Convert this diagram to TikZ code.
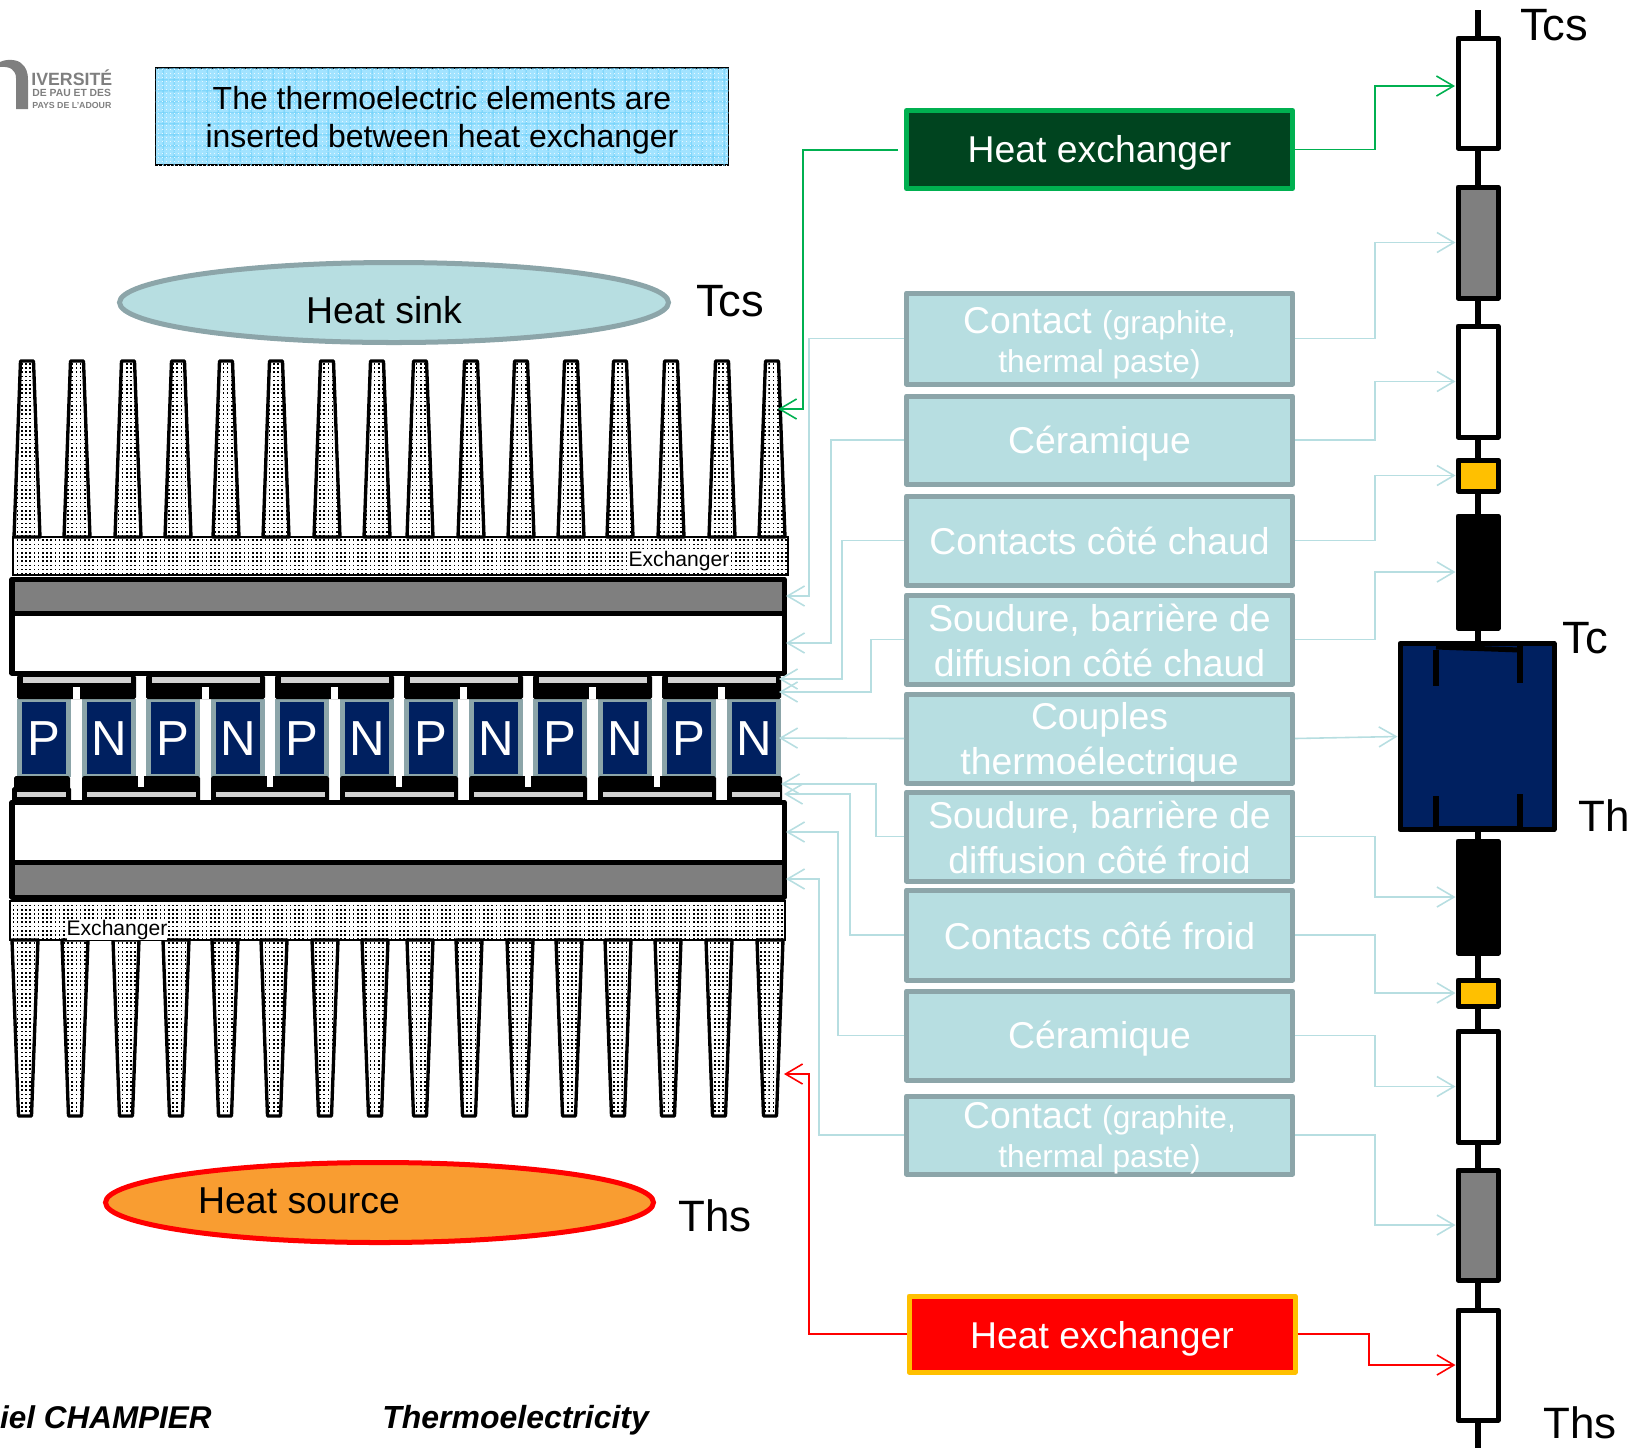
\documentclass[tikz,border=0pt]{standalone}
\usepackage{fontspec}
\setmainfont{Liberation Sans}
\usetikzlibrary{arrows.meta,patterns,shapes.geometric}
\definecolor{teal1}{HTML}{B7DEE1}
\definecolor{teal2}{HTML}{8CA5A9}
\definecolor{navyb}{HTML}{002060}
\definecolor{green1}{HTML}{00B050}
\definecolor{green2}{HTML}{00441F}
\definecolor{ambr}{HTML}{FFC000}
\definecolor{orng}{HTML}{F99D31}
\definecolor{hatchbase}{HTML}{A2E3FF}
\definecolor{hatchline}{HTML}{72D2FA}
\definecolor{gry}{HTML}{7F7F7F}
\definecolor{lgry}{HTML}{D2D2D2}
\pgfdeclarepatternformonly{mydots}{\pgfqpoint{-0.1pt}{-0.1pt}}{\pgfqpoint{2.5pt}{2.5pt}}{\pgfqpoint{2.39pt}{2.39pt}}{\pgfpathrectangle{\pgfqpoint{0pt}{0pt}}{\pgfqpoint{0.95pt}{0.95pt}}\pgfusepath{fill}}
\pgfdeclarepatternformonly{mygrid}{\pgfqpoint{0pt}{0pt}}{\pgfqpoint{6pt}{6pt}}{\pgfqpoint{6pt}{6pt}}{\pgfsetlinewidth{0.6pt}\pgfpathmoveto{\pgfqpoint{0pt}{3pt}}\pgfpathlineto{\pgfqpoint{6pt}{3pt}}\pgfpathmoveto{\pgfqpoint{3pt}{0pt}}\pgfpathlineto{\pgfqpoint{3pt}{6pt}}\pgfusepath{stroke}}
\pgfdeclarepatternformonly{mywdots}{\pgfqpoint{0pt}{0pt}}{\pgfqpoint{2pt}{2pt}}{\pgfqpoint{2pt}{2pt}}{\pgfpathrectangle{\pgfqpoint{0pt}{0pt}}{\pgfqpoint{0.5pt}{0.5pt}}\pgfusepath{fill}}
\tikzset{
  thick line/.style={draw=black,line width=2.85pt,line join=round},
  tealbox/.style={rectangle,draw=teal2,fill=teal1,line width=2.85pt,line join=round,inner sep=0pt,minimum width={386*0.02cm}},
  boxtext/.style={text=white,align=center,inner sep=0pt,font=\fontsize{21.25}{25.6}\selectfont},
  rbox/.style={rectangle,thick line,inner sep=0pt,minimum width={40*0.02cm}},
  conn/.style={line width=0.9pt,-{Straight Barb[length=9.7pt,width=11.4pt,line width=0.9pt]}},
  finshape/.style={draw=black,line width=1.9pt,line join=round,pattern=mydots},
  exch/.style={draw=black,line width=1.1pt,pattern=mydots},
  tlabel/.style={inner sep=0pt,font=\fontsize{25.8}{30}\selectfont},
  tlabelb/.style={inner sep=0pt,font=\fontsize{25}{30}\selectfont},
  exlabel/.style={inner sep=0pt,fill=white,font=\fontsize{12}{14}\selectfont},
  leglabel/.style={inner sep=0pt,text=white,font=\fontsize{28}{30}\selectfont},
}
\newcommand\cbox[5]{\node[tealbox,minimum height={(#3-#2-6)*0.02cm}] (#1) at (1099.5,{(#2+#3)/2}) {};
  \node[boxtext] (#1t) at (1099.5,{(#2+#3)/2+#4}) {#5};}
\newcommand\rblk[4]{\node[rbox,fill=#4,minimum height={(#3-#2)*0.02cm}] (#1) at (1478,{(#2+#3)/2}) {};}
\newcommand\bigsmall[2]{#1 {\fontsize{18}{22.8}\selectfont #2}}
\begin{document}
\begin{tikzpicture}[x=0.02cm,y=-0.02cm]
\useasboundingbox (0,0) rectangle (1635,1448);
% logo
\fill[gry] (0,62) .. controls (6,59) and (16,59) .. (21,63) .. controls (26,67) and (28,72) .. (28,80) -- (28,109) -- (16,109) -- (16,78) .. controls (16,70) and (10,66) .. (0,67) -- cycle;
\node[inner sep=0pt,text=gry,anchor=west,font=\bfseries\fontsize{10.1}{10}\selectfont] (lg1) at (31,78) {IVERSITÉ};
\node[inner sep=0pt,text=gry,anchor=west,font=\bfseries\fontsize{5.9}{6}\selectfont] (lg2) at (32,93) {DE PAU ET DES};
\node[inner sep=0pt,text=gry,anchor=west,font=\bfseries\fontsize{5}{6}\selectfont] (lg3) at (32,105) {PAYS DE L'ADOUR};
% title box
\node[rectangle,draw=black,line width=0.9pt,fill=hatchbase,postaction={pattern=mygrid,pattern color=hatchline},postaction={pattern=mywdots,pattern color=white!75!hatchbase},minimum width={573*0.02cm},minimum height={97*0.02cm},inner sep=0pt] (title) at (442,116.5) {};
\node[inner sep=0pt,align=center,font=\fontsize{18.2}{21.6}\selectfont] (titletext) at (442,120) {The thermoelectric elements are\\inserted between heat exchanger};
% ellipses
\node[ellipse,draw=teal2,fill=teal1,line width=2.85pt,minimum width={549*0.02cm},minimum height={80*0.02cm},inner sep=0pt] (sink) at (394,302.5) {};
\node[inner sep=0pt,font=\fontsize{21.3}{25.6}\selectfont] (sinktext) at (384,310) {Heat sink};
\node[ellipse,draw=red,fill=orng,line width=2.85pt,minimum width={548*0.02cm},minimum height={80*0.02cm},inner sep=0pt] (source) at (379.5,1202.5) {};
\node[inner sep=0pt,font=\fontsize{21.3}{25.6}\selectfont] (sourcetext) at (299,1201) {Heat source};
\node[tlabel] (tcsL) at (730,301) {Tcs};
\node[tlabelb] (thsL) at (715,1216) {Ths};
% fins
\foreach \c in {27,77,128,178,226,276,327,377,420,471,521,571,620,671,722,772}{
  \draw[finshape] ({\c-6.5},361) -- ({\c+6.5},361) -- ({\c+13},537) -- ({\c-13},537) -- cycle;
}
\foreach \c in {25,75,126,176,225,274,325,375,420,469,520,569,618,668,719,770}{
  \draw[finshape] ({\c-13},940) -- ({\c+13},940) -- ({\c+6.5},1116) -- ({\c-6.5},1116) -- cycle;
}
\draw[exch] (13,537) rectangle (788,575);
\draw[exch] (10,901) rectangle (785,940);
\node[exlabel] (ex1) at (679,561) {Exchanger};
\node[exlabel] (ex2) at (117,930) {Exchanger};
% legs
\foreach \k in {0,...,5}{
  \fill[teal2] ({17+129*\k},699) rectangle ({71+129*\k},777);
  \fill[navyb] ({22+129*\k},702) rectangle ({66+129*\k},774);
  \fill[teal2] ({82+129*\k},699) rectangle ({136+129*\k},777);
  \fill[navyb] ({87+129*\k},702) rectangle ({131+129*\k},774);
  \node[leglabel] (p\k) at ({44+129*\k},739) {P};
  \node[leglabel] (n\k) at ({109+129*\k},739) {N};
  \fill[black,rounded corners=1pt] ({17+129*\k},675) rectangle ({136+129*\k},699);
  \fill[lgry] ({23+129*\k},677) rectangle ({131+129*\k},683);
  \fill[white] ({73+129*\k},687) rectangle ({80+129*\k},699);
}
% bottom contacts
\fill[black,rounded corners=1pt] (14,776) rectangle (70,790);
\fill[black,rounded corners=1pt] (12,787) rectangle (71,802);
\fill[lgry] (17,792) rectangle (66,797);
\foreach \k in {0,...,4}{
  \fill[black,rounded corners=1pt] ({82+129*\k},776) rectangle ({200+129*\k},802);
  \fill[white] ({138+129*\k},776) rectangle ({144+129*\k},787);
  \fill[lgry] ({87+129*\k},792) rectangle ({196+129*\k},797);
}
\fill[black,rounded corners=1pt] (727,776) rectangle (782,802);
\fill[lgry] (732,792) rectangle (780,797);
% plates
\draw[thick line,fill=gry] (12,579) rectangle (784,613);
\draw[thick line,fill=white] (12,613) rectangle (784,673);
\draw[thick line,fill=white] (12,802) rectangle (784,862);
\draw[thick line,fill=gry] (12,862) rectangle (784,897);
% centre column
\node[tealbox,draw=green1,fill=green2,minimum height={78*0.02cm}] (hx1) at (1099.5,149.5) {};
\node[boxtext] (hx1t) at (1099.5,152.5) {Heat exchanger};
\cbox{c1}{290}{387}{5}{\bigsmall{Contact}{(graphite,}\\[-3.5pt]{\fontsize{18}{22.8}\selectfont thermal paste)}}
\cbox{c2}{393}{487}{4}{Céramique}
\cbox{c3}{493}{588}{0}{Contacts côté chaud}
\cbox{c4}{592}{687}{1}{Soudure, barrière de\\diffusion côté chaud}
\cbox{c5}{691}{786}{4}{Couples\\thermoélectrique}
\cbox{c6}{789}{884}{1}{Soudure, barrière de\\diffusion côté froid}
\cbox{c7}{887}{983}{1}{Contacts côté froid}
\cbox{c8}{988}{1083}{3}{Céramique}
\cbox{c9}{1093}{1177}{3}{\bigsmall{Contact}{(graphite,}\\[-3.5pt]{\fontsize{18}{22.8}\selectfont thermal paste)}}
\node[tealbox,draw=ambr,fill=red,minimum height={76*0.02cm}] (hx2) at (1102,1334) {};
\node[boxtext] (hx2t) at (1102,1339) {Heat exchanger};
% right column
\coordinate (spT) at (1478,10);
\coordinate (spB) at (1478,1448);
\draw[line width=3.4pt] (spT) -- (spB);
\rblk{r1}{38}{148}{white}
\rblk{r2}{187}{298}{gry}
\rblk{r3}{326}{437}{white}
\rblk{r4}{460}{491}{ambr}
\rblk{r5}{516}{628}{black}
\node[rectangle,thick line,fill=navyb,inner sep=0pt,minimum width={154*0.02cm},minimum height={186*0.02cm}] (r6) at (1477,736.5) {};
\rblk{r7}{841}{953}{black}
\rblk{r8}{980}{1006}{ambr}
\rblk{r9}{1031}{1142}{white}
\rblk{r10}{1170}{1280}{gry}
\rblk{r11}{1310}{1420}{white}
\draw[line width=3.4pt] (1436,650) -- (1436,686);
\draw[line width=3.4pt] (1520,646) -- (1520,683);
\draw[line width=2.85pt] (1436,647) -- (1520,650);
\draw[line width=3.4pt] (1436,796) -- (1436,829);
\draw[line width=3.4pt] (1520,794) -- (1520,829);
\draw[line width=2.85pt] (1436,828) -- (1520,828);
\node[tlabel] (tcsR) at (1554,25) {Tcs};
\node[tlabel] (tcR) at (1585,638) {Tc};
\node[tlabelb] (thR) at (1604,816) {Th};
\node[tlabelb] (thsR) at (1580,1423) {Ths};
% footer
\node[inner sep=0pt,anchor=east,font=\bfseries\itshape\fontsize{17.9}{22}\selectfont] (auth) at (212,1417) {iel CHAMPIER};
\node[inner sep=0pt,anchor=west,font=\bfseries\itshape\fontsize{18.2}{22}\selectfont] (topic) at (382,1420) {Thermoelectricity};
% connector helpers
\coordinate (xr) at (1375,0);
\coordinate (xr2) at (1369,0);
\coordinate (s1) at (898,150);
\coordinate (v0) at (803,0);
\coordinate (v1) at (809,0);
\coordinate (v2) at (831,0);
\coordinate (v3) at (842,0);
\coordinate (v4) at (871,0);
\coordinate (v6) at (876,0);
\coordinate (v7) at (850,0);
\coordinate (v8) at (838,0);
\coordinate (v9) at (819,0);
\coordinate (t0) at (778,409);
\coordinate (t1) at (786,596);
\coordinate (t2) at (786,643);
\coordinate (t3) at (779,679);
\coordinate (t4) at (779,692);
\coordinate (t5) at (779,738);
\coordinate (t6) at (781,784);
\coordinate (t7) at (784,794);
\coordinate (t8) at (786,832);
\coordinate (t9) at (786,879);
\coordinate (t10) at (784,1074);
\coordinate (rt) at (1455,86);
% left connectors
\draw[conn,green1] (s1) -- (s1 -| v0) |- (t0);
\draw[conn,teal1] (c1.west) -- (c1.west -| v1) |- (t1);
\draw[conn,teal1] (c2.west) -- (c2.west -| v2) |- (t2);
\draw[conn,teal1] (c3.west) -- (c3.west -| v3) |- (t3);
\draw[conn,teal1] (c4.west) -- (c4.west -| v4) |- (t4);
\draw[conn,teal1] (c5.west) -- (t5);
\draw[conn,teal1] (c6.west) -- (c6.west -| v6) |- (t6);
\draw[conn,teal1] (c7.west) -- (c7.west -| v7) |- (t7);
\draw[conn,teal1] (c8.west) -- (c8.west -| v8) |- (t8);
\draw[conn,teal1] (c9.west) -- (c9.west -| v9) |- (t9);
\draw[conn,red] (hx2.west) -- (hx2.west -| v1) |- (t10);
% right connectors
\draw[conn,green1] (hx1.east) -- (hx1.east -| xr) |- (rt);
\draw[conn,teal1] (c1.east) -- (c1.east -| xr) |- (r2.west);
\draw[conn,teal1] (c2.east) -- (c2.east -| xr) |- (r3.west);
\draw[conn,teal1] (c3.east) -- (c3.east -| xr) |- (r4.west);
\draw[conn,teal1] (c4.east) -- (c4.east -| xr) |- (r5.west);
\draw[conn,teal1] (c5.east) -- (r6.west);
\draw[conn,teal1] (c6.east) -- (c6.east -| xr) |- (r7.west);
\draw[conn,teal1] (c7.east) -- (c7.east -| xr) |- (r8.west);
\draw[conn,teal1] (c8.east) -- (c8.east -| xr) |- (r9.west);
\draw[conn,teal1] (c9.east) -- (c9.east -| xr) |- (r10.west);
\draw[conn,red] (hx2.east) -- (hx2.east -| xr2) |- (r11.west);
\end{tikzpicture}
\end{document}
